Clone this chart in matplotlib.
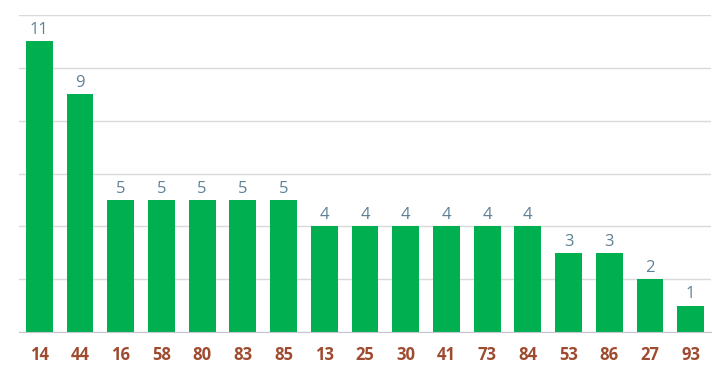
import matplotlib.pyplot as plt

categories = ["14", "44", "16", "58", "80", "83", "85", "13", "25", "30", "41", "73", "84", "53", "86", "27", "93"]
counts = [11, 9, 5, 5, 5, 5, 5, 4, 4, 4, 4, 4, 4, 3, 3, 2, 1]

plt.rcParams['font.family'] = ['Open Sans', 'DejaVu Sans']

fig = plt.figure(figsize=(7.21, 3.73), dpi=100)
ax = fig.add_axes([19 / 721, 41 / 373, 692 / 721, 317 / 373])

x = list(range(len(categories)))
bars = ax.bar(x, counts, width=0.66, color='#00b050', zorder=3)

for xi, v in zip(x, counts):
    ax.text(xi, v + 0.27, str(v), ha='center', va='baseline',
            fontsize=12, color='#5f8196', zorder=4)

ax.set_xlim(-0.5, len(categories) - 0.5)
ax.set_ylim(0, 12)
ax.set_yticks(range(0, 13, 2))
ax.set_yticklabels([])
ax.yaxis.grid(True, color='#d9d9d9', linewidth=1, zorder=0)
ax.tick_params(axis='y', length=0)
ax.tick_params(axis='x', length=0, pad=10)

ax.set_xticks(x)
ax.set_xticklabels(categories, fontsize=12, fontweight='bold', color='#9e4b30')

for s in ['top', 'right', 'left']:
    ax.spines[s].set_visible(False)
ax.spines['bottom'].set_color('#c8c4d0')
ax.spines['bottom'].set_zorder(5)

fig.savefig('out.png', dpi=100)
